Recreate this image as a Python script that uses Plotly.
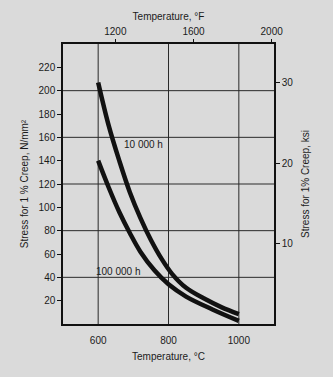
import plotly.graph_objects as go

# Data
temp_10k = [600, 630, 660, 690, 720, 750, 780, 810, 850, 900, 950, 1000]
stress_10k = [207, 170, 140, 113, 91, 72, 56, 43, 31, 22, 14.5, 8.4]
temp_100k = [600, 630, 660, 690, 720, 760, 800, 850, 925, 1000]
stress_100k = [140, 117, 96, 78, 62, 46, 34, 23.5, 12.5, 2.7]

x_ticks_c = [600, 800, 1000]
x_ticks_f = [1200, 1600, 2000]
y_ticks_mpa = [20, 40, 60, 80, 100, 120, 140, 160, 180, 200, 220]
y_ticks_ksi = [10, 20, 30]
grid_y = [40, 80, 120, 160, 200]

labels = ["10 000 h", "100 000 h"]
label_pos_t = [730, 658]
label_pos_s = [154, 45]

X_RANGE_C = [500, 1100]
Y_RANGE = [0, 240]
MPA_PER_KSI = 6.895

FONT = "Liberation Sans"
INK = "#1a1a1a"

fig = go.Figure()

for t, s in [(temp_10k, stress_10k), (temp_100k, stress_100k)]:
    fig.add_trace(go.Scatter(x=t, y=s, mode="lines", line=dict(color="#111", width=4.5, shape="spline", smoothing=1),
                             hoverinfo="skip", showlegend=False))

# dummy traces to activate secondary axes
fig.add_trace(go.Scatter(x=[X_RANGE_C[0] * 9 / 5 + 32], y=[0], xaxis="x2", yaxis="y", mode="markers",
                         marker=dict(opacity=0), showlegend=False, hoverinfo="skip"))
fig.add_trace(go.Scatter(x=[X_RANGE_C[0]], y=[0], xaxis="x", yaxis="y2", mode="markers",
                         marker=dict(opacity=0), showlegend=False, hoverinfo="skip"))

for txt, tx, sy in zip(labels, label_pos_t, label_pos_s):
    fig.add_annotation(x=tx, y=sy, text=txt, showarrow=False, font=dict(family=FONT, size=10, color=INK))

# grid lines
for gy in grid_y:
    fig.add_shape(type="line", xref="paper", x0=0, x1=1, yref="y", y0=gy, y1=gy,
                  line=dict(color="#2a2a2a", width=1), layer="below")
for gx in x_ticks_c:
    fig.add_shape(type="line", xref="x", x0=gx, x1=gx, yref="paper", y0=0, y1=1,
                  line=dict(color="#2a2a2a", width=1), layer="below")

fig.update_layout(
    width=333, height=377,
    margin=dict(l=63, r=59, t=44, b=53),
    paper_bgcolor="#dadada", plot_bgcolor="#dadada",
    font=dict(family=FONT, size=10, color=INK),
    xaxis=dict(range=X_RANGE_C, tickvals=x_ticks_c, showgrid=False, zeroline=False,
               showline=True, linecolor="#111", linewidth=1.5, mirror=False, ticks="",
               ticklabelstandoff=6,
               title=dict(text="Temperature, °C", standoff=8, font=dict(size=10))),
    xaxis2=dict(range=[X_RANGE_C[0] * 9 / 5 + 32, X_RANGE_C[1] * 9 / 5 + 32], overlaying="x", side="top",
                tickvals=x_ticks_f, showgrid=False, zeroline=False, showline=True, linecolor="#111",
                linewidth=1.5, ticks="outside", ticklen=3, tickcolor="#111",
                title=dict(text="Temperature, °F", standoff=4, font=dict(size=10))),
    yaxis=dict(range=Y_RANGE, tickvals=y_ticks_mpa, showgrid=False, zeroline=False, showline=True,
               linecolor="#111", linewidth=1.5, ticks="outside", ticklen=4, tickcolor="#111",
               title=dict(text="Stress for 1 % Creep, N/mm²", standoff=8, font=dict(size=10))),
    yaxis2=dict(range=[Y_RANGE[0] / MPA_PER_KSI, Y_RANGE[1] / MPA_PER_KSI], overlaying="y", side="right",
                tickvals=y_ticks_ksi, showgrid=False, zeroline=False, showline=True, linecolor="#111",
                linewidth=1.5, ticks="outside", ticklen=4, tickcolor="#111",
                title=dict(text="Stress for 1% Creep, ksi", standoff=10, font=dict(size=10))),
)

fig.write_html("out.html")
